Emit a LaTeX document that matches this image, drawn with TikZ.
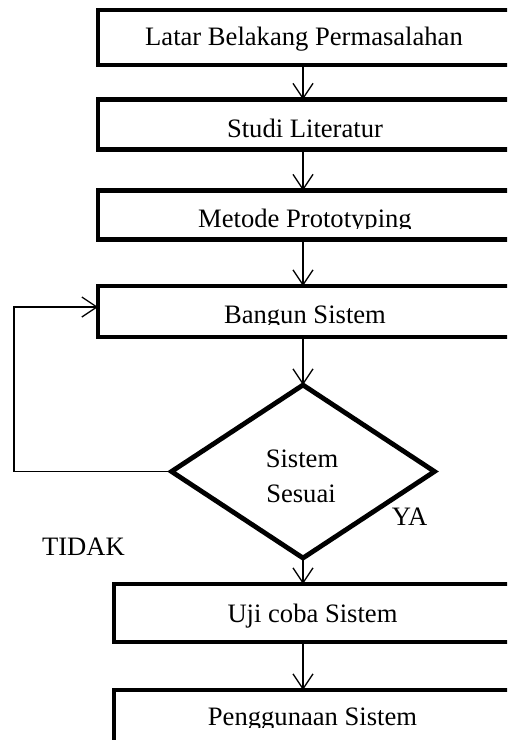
\documentclass[tikz,border=0pt]{standalone}
\usepackage{fontspec}
\setmainfont{Liberation Serif}
\usetikzlibrary{arrows.meta,shapes.geometric}
\tikzset{
  boxnode/.style={draw, line width=4.5pt, rectangle, inner sep=0pt, outer sep=0pt},
  txt/.style={anchor=base, inner sep=0pt, font=\fontsize{26.6}{32}\selectfont},
  arr/.style={line width=1.3pt, -{Straight Barb[length=15pt,width=20pt]}},
  decision/.style={draw, diamond, line width=4.8pt, inner sep=0pt, outer sep=0pt, minimum width=263pt, minimum height=173pt}
}
\begin{document}
\begin{tikzpicture}[x=1pt,y=-1pt]
\useasboundingbox (0,0) rectangle (507,740);
\clip (0,0) rectangle (507,740);
% boxes
\node[boxnode, minimum width=415pt, minimum height=55pt] (b1) at (305.5,37.5) {};
\node[boxnode, minimum width=415pt, minimum height=50pt] (b2) at (305.5,124.5) {};
\node[boxnode, minimum width=415pt, minimum height=49pt] (b3) at (305.5,215) {};
\node[boxnode, minimum width=415pt, minimum height=51pt] (b4) at (305.5,311.5) {};
\node[decision] (d) at (303,471.5) {};
\node[boxnode, minimum width=400pt, minimum height=58pt] (b5) at (314,613) {};
\node[boxnode, minimum width=400pt, minimum height=55pt] (b6) at (314,717.5) {};
% texts
\node[txt] (t1) at (304,45) {Latar Belakang Permasalahan};
\node[txt] (t2) at (305,137) {Studi Literatur};
\begin{scope}
\clip (100,192) rectangle (507,228);
\node[txt] (t3) at (305,227) {Metode Prototyping};
\end{scope}
\begin{scope}
\clip (100,288) rectangle (507,324);
\node[txt] (t4) at (305,323) {Bangun Sistem};
\end{scope}
\node[txt] (s1) at (302,467) {Sistem};
\node[txt] (s2) at (301,502) {Sesuai};
\node[txt] (ya) at (409.5,525) {YA};
\node[txt] (tidak) at (83.5,555) {TIDAK};
\node[txt] (t5) at (312.5,622) {Uji coba Sistem};
\begin{scope}
\clip (116,692) rectangle (507,727);
\node[txt] (t6) at (312.5,725) {Penggunaan Sistem};
\end{scope}
% connectors
\coordinate (ax) at (303,0);
\coordinate (fbc) at (14,307);
\draw[arr] (b1.south -| ax) -- (b2.north -| ax);
\draw[arr] (b2.south -| ax) -- (b3.north -| ax);
\draw[arr] (b3.south -| ax) -- (b4.north -| ax);
\draw[arr] (b4.south -| ax) -- (d.north);
\draw[arr] (d.south) -- (b5.north -| ax);
\draw[arr] (b5.south -| ax) -- (b6.north -| ax);
\draw[arr] (d.west) -| (fbc) -- (fbc -| b4.west);
\end{tikzpicture}
\end{document}
